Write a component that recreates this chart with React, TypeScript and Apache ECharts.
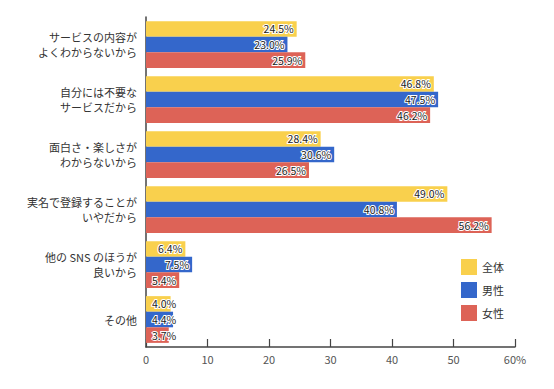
import React, { useEffect, useRef } from "react";
import * as echarts from "echarts";

const categories = [
  "サービスの内容が\nよくわからないから",
  "自分には不要な\nサービスだから",
  "面白さ・楽しさが\nわからないから",
  "実名で登録することが\nいやだから",
  "他の SNS のほうが\n良いから",
  "その他",
];
const seriesNames = ["全体", "男性", "女性"];
const totalValues = [24.5, 46.8, 28.4, 49.0, 6.4, 4.0];
const maleValues = [23.0, 47.5, 30.6, 40.8, 7.5, 4.4];
const femaleValues = [25.9, 46.2, 26.5, 56.2, 5.4, 3.7];
const colors = ["#F9D04D", "#3467CB", "#DD6357"];
const xTicks = [0, 10, 20, 30, 40, 50, 60];

const FONT = "'Noto Sans CJK JP', 'Noto Sans', sans-serif";

function buildData(values: number[]) {
  return values.map((v) => ({
    value: v,
    label:
      v < 6
        ? { position: "insideLeft", distance: 6 }
        : { position: "insideRight", distance: 3 },
  }));
}

export default function App() {
  const ref = useRef<HTMLDivElement>(null);
  useEffect(() => {
    if (!ref.current) return;
    const chart = echarts.init(ref.current, null, { renderer: "svg" });
    const allValues = [totalValues, maleValues, femaleValues];
    chart.setOption({
      animation: false,
      backgroundColor: "#fff",
      textStyle: { fontFamily: FONT },
      grid: { left: 146, right: 39, top: 17, bottom: 42 },
      legend: {
        orient: "vertical",
        left: 456,
        top: 254,
        itemWidth: 16,
        itemHeight: 16,
        itemGap: 7,
        icon: "rect",
        textStyle: { fontSize: 11, color: "#333", fontFamily: FONT },
        data: seriesNames,
      },
      xAxis: {
        type: "value",
        min: 0,
        max: 60,
        interval: 10,
        axisLine: { show: true, lineStyle: { color: "#444", width: 1.5 } },
        axisTick: { show: true, inside: true, length: 8, lineStyle: { color: "#444", width: 1.2 } },
        splitLine: { show: false },
        axisLabel: {
          color: "#555",
          fontSize: 11,
          margin: 6,
          fontFamily: FONT,
          formatter: (v: number) => (v === 60 ? "60%" : String(v)),
          customValues: xTicks,
        },
      },
      yAxis: {
        type: "category",
        inverse: true,
        data: categories,
        axisLine: { show: true, lineStyle: { color: "#444", width: 1.5 } },
        axisTick: { show: false },
        axisLabel: {
          color: "#333",
          fontSize: 11,
          lineHeight: 15,
          margin: 9,
          align: "right",
          fontFamily: FONT,
        },
      },
      series: seriesNames.map((name, i) => ({
        name,
        type: "bar",
        data: buildData(allValues[i]),
        itemStyle: { color: colors[i] },
        barGap: "0%",
        barCategoryGap: "15%",
        label: {
          show: true,
          formatter: (p: any) => p.value.toFixed(1) + "%",
          fontSize: 10.5,
          color: "#222",
          textBorderColor: "#fff",
          textBorderWidth: 2,
          fontFamily: FONT,
        },
      })),
    });
    return () => chart.dispose();
  }, []);
  return <div ref={ref} style={{ width: 554, height: 389, margin: -8 }} />;
}
